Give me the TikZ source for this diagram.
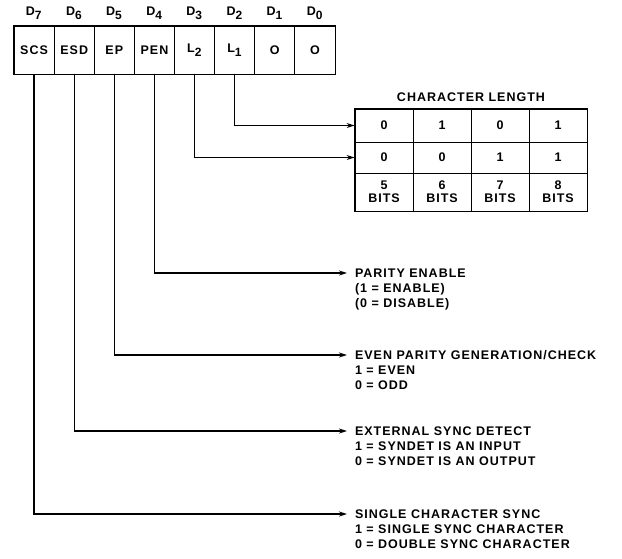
\documentclass[tikz,border=0pt]{standalone}
\usepackage{fontspec}
\setmainfont{Liberation Sans}[LetterSpace=8]
\usetikzlibrary{arrows.meta}

\begin{document}
\begin{tikzpicture}[x=1pt,y=-1pt,font=\bfseries\fontsize{12.5}{15}\selectfont,
  cell/.style={draw,line width=0.9pt,minimum width=40.125pt,minimum height=48pt,inner sep=0pt},
  tcell/.style={draw,line width=0.9pt,minimum width=58pt,inner sep=0pt,align=center,font=\bfseries\fontsize{12.5}{13}\selectfont},
  desc/.style={align=left,inner sep=0pt,outer sep=0pt,anchor=north west},
  lead/.style={-{Stealth[length=8pt,width=5pt]},line width=1.2pt}]
  \useasboundingbox (0,0) rectangle (622,558);
  % mode register
  \node[cell] (scs) at (34.06,50) {SCS};
  \node[cell] (esd) at (74.19,50) {ESD};
  \node[cell] (ep) at (114.31,50) {EP};
  \node[cell] (pen) at (154.44,50) {PEN};
  \node[cell] (l2) at (194.56,50) {L\textsubscript{\large 2}};
  \node[cell] (l1) at (234.69,50) {L\textsubscript{\large 1}};
  \node[cell] (d1) at (274.81,50) {O};
  \node[cell] (d0) at (314.94,50) {O};
  \draw[line width=1.8pt] (scs.north west) rectangle (d0.south east);
  \node (b7) at (34.06,13) {D\textsubscript{\large 7}};
  \node (b6) at (74.19,13) {D\textsubscript{\large 6}};
  \node (b5) at (114.31,13) {D\textsubscript{\large 5}};
  \node (b4) at (154.44,13) {D\textsubscript{\large 4}};
  \node (b3) at (194.56,13) {D\textsubscript{\large 3}};
  \node (b2) at (234.69,13) {D\textsubscript{\large 2}};
  \node (b1) at (274.81,13) {D\textsubscript{\large 1}};
  \node (b0) at (314.94,13) {D\textsubscript{\large 0}};
  % character length table
  \node (title) at (471,97) {CHARACTER LENGTH};
  \node[tcell,minimum height=33pt] (ta1) at (384,125.5) {0};
  \node[tcell,minimum height=33pt] (ta2) at (442,125.5) {1};
  \node[tcell,minimum height=33pt] (ta3) at (500,125.5) {0};
  \node[tcell,minimum height=33pt] (ta4) at (558,125.5) {1};
  \node[tcell,minimum height=31pt] (tb1) at (384,157.5) {0};
  \node[tcell,minimum height=31pt] (tb2) at (442,157.5) {0};
  \node[tcell,minimum height=31pt] (tb3) at (500,157.5) {1};
  \node[tcell,minimum height=31pt] (tb4) at (558,157.5) {1};
  \node[tcell,minimum height=38pt] (tc1) at (384,192) {5\\BITS};
  \node[tcell,minimum height=38pt] (tc2) at (442,192) {6\\BITS};
  \node[tcell,minimum height=38pt] (tc3) at (500,192) {7\\BITS};
  \node[tcell,minimum height=38pt] (tc4) at (558,192) {8\\BITS};
  \draw[line width=1.8pt] (ta1.north west) rectangle (tc4.south east);
  % bit descriptions
  \node[desc] (parity) at (355,268.5) {PARITY ENABLE\\(1 = ENABLE)\\(0 = DISABLE)};
  \node[desc] (evenp) at (355,350.5) {EVEN PARITY GENERATION/CHECK\\1 = EVEN\\0 = ODD};
  \node[desc] (extsync) at (355,426.5) {EXTERNAL SYNC DETECT\\1 = SYNDET IS AN INPUT\\0 = SYNDET IS AN OUTPUT};
  \node[desc] (scsync) at (355,509.5) {SINGLE CHARACTER SYNC\\1 = SINGLE SYNC CHARACTER\\0 = DOUBLE SYNC CHARACTER};
  \draw[lead] (l1) |- (ta1.west);
  \draw[lead] (l2) |- (tb1.west);
  \draw[lead] (pen) |- ([xshift=-8pt,yshift=-4.5pt]parity.north west);
  \draw[lead] (ep) |- ([xshift=-8pt,yshift=-4.5pt]evenp.north west);
  \draw[lead] (esd) |- ([xshift=-8pt,yshift=-4.5pt]extsync.north west);
  \draw[lead] (scs) |- ([xshift=-8pt,yshift=-4.5pt]scsync.north west);
\end{tikzpicture}
\end{document}
